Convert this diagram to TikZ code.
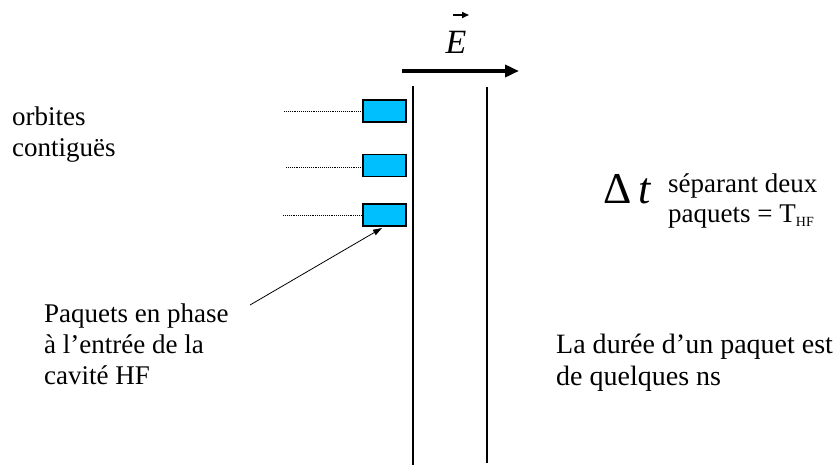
\documentclass[tikz,border=0pt]{standalone}
\usepackage{fontspec}
\setmainfont{Liberation Serif}
\usetikzlibrary{arrows.meta}
\definecolor{pkt}{RGB}{0,191,255}
\tikzset{
  txt/.style={anchor=north west, inner sep=0pt, align=left, font=\fontsize{27}{31}\selectfont},
  packet/.style={draw=black, line width=1.3pt, fill=pkt, minimum width=43pt, minimum height=22pt, inner sep=0pt},
  orbit/.style={densely dotted, line width=0.9pt},
  wall/.style={line width=1.2pt}
}
\begin{document}
\begin{tikzpicture}[x=1pt,y=-1pt]
\useasboundingbox (0,0) rectangle (834,467);
% walls
\coordinate (w1t) at (413,86); \coordinate (w1b) at (413,465);
\coordinate (w2t) at (487,87); \coordinate (w2b) at (487,463);
\draw[wall] (w1t) -- (w1b);
\draw[wall] (w2t) -- (w2b);
% field arrow
\coordinate (ea) at (402,71); \coordinate (eb) at (519,71);
\draw[line width=4pt, -{Triangle[length=14pt,width=12pt]}] (ea) -- (eb);
\node[inner sep=0pt, anchor=base, font=\fontsize{34}{34}\selectfont] (E) at (456,53) {\textit{E}};
\coordinate (va) at (453,15); \coordinate (vb) at (469,15);
\draw[line width=1.6pt, -{Triangle[length=7pt,width=6pt]}] (va) -- (vb);
% packets
\node[packet] (p1) at (384.5,111) {};
\node[packet] (p2) at (384.5,165.5) {};
\node[packet] (p3) at (384.5,215) {};
\coordinate (o1) at (284,111);
\coordinate (o2) at (286,167);
\coordinate (o3) at (283,215);
\draw[orbit] (o1) -- (p1.west);
\draw[orbit] (o2) -- (p2.west |- o2);
\draw[orbit] (o3) -- (p3.west);
% labels
\node[txt] (orb) at (12,107) {orbites\\contiguës};
\node[txt] (paq) at (44,304) {Paquets en phase\\à l’entrée de la\\cavité HF};
\coordinate (as) at (250,305);
\draw[line width=0.8pt, -{Triangle[length=9pt,width=6pt]}] (as) -- (382,228);
\node[txt, font=\fontsize{28}{32}\selectfont] (dur) at (556,334) {La durée d’un paquet est\\de quelques ns};
% delta t
\node[inner sep=0pt, anchor=base west, font=\fontsize{44}{44}\selectfont] (dt) at (603,203) {Δ\,\textit{t}};
\node[inner sep=0pt, anchor=north west, align=left, font=\fontsize{27}{30}\selectfont] (sep) at (668,174) {séparant deux\\paquets = T\textsubscript{\fontsize{14}{14}\selectfont HF}};
\end{tikzpicture}
\end{document}
